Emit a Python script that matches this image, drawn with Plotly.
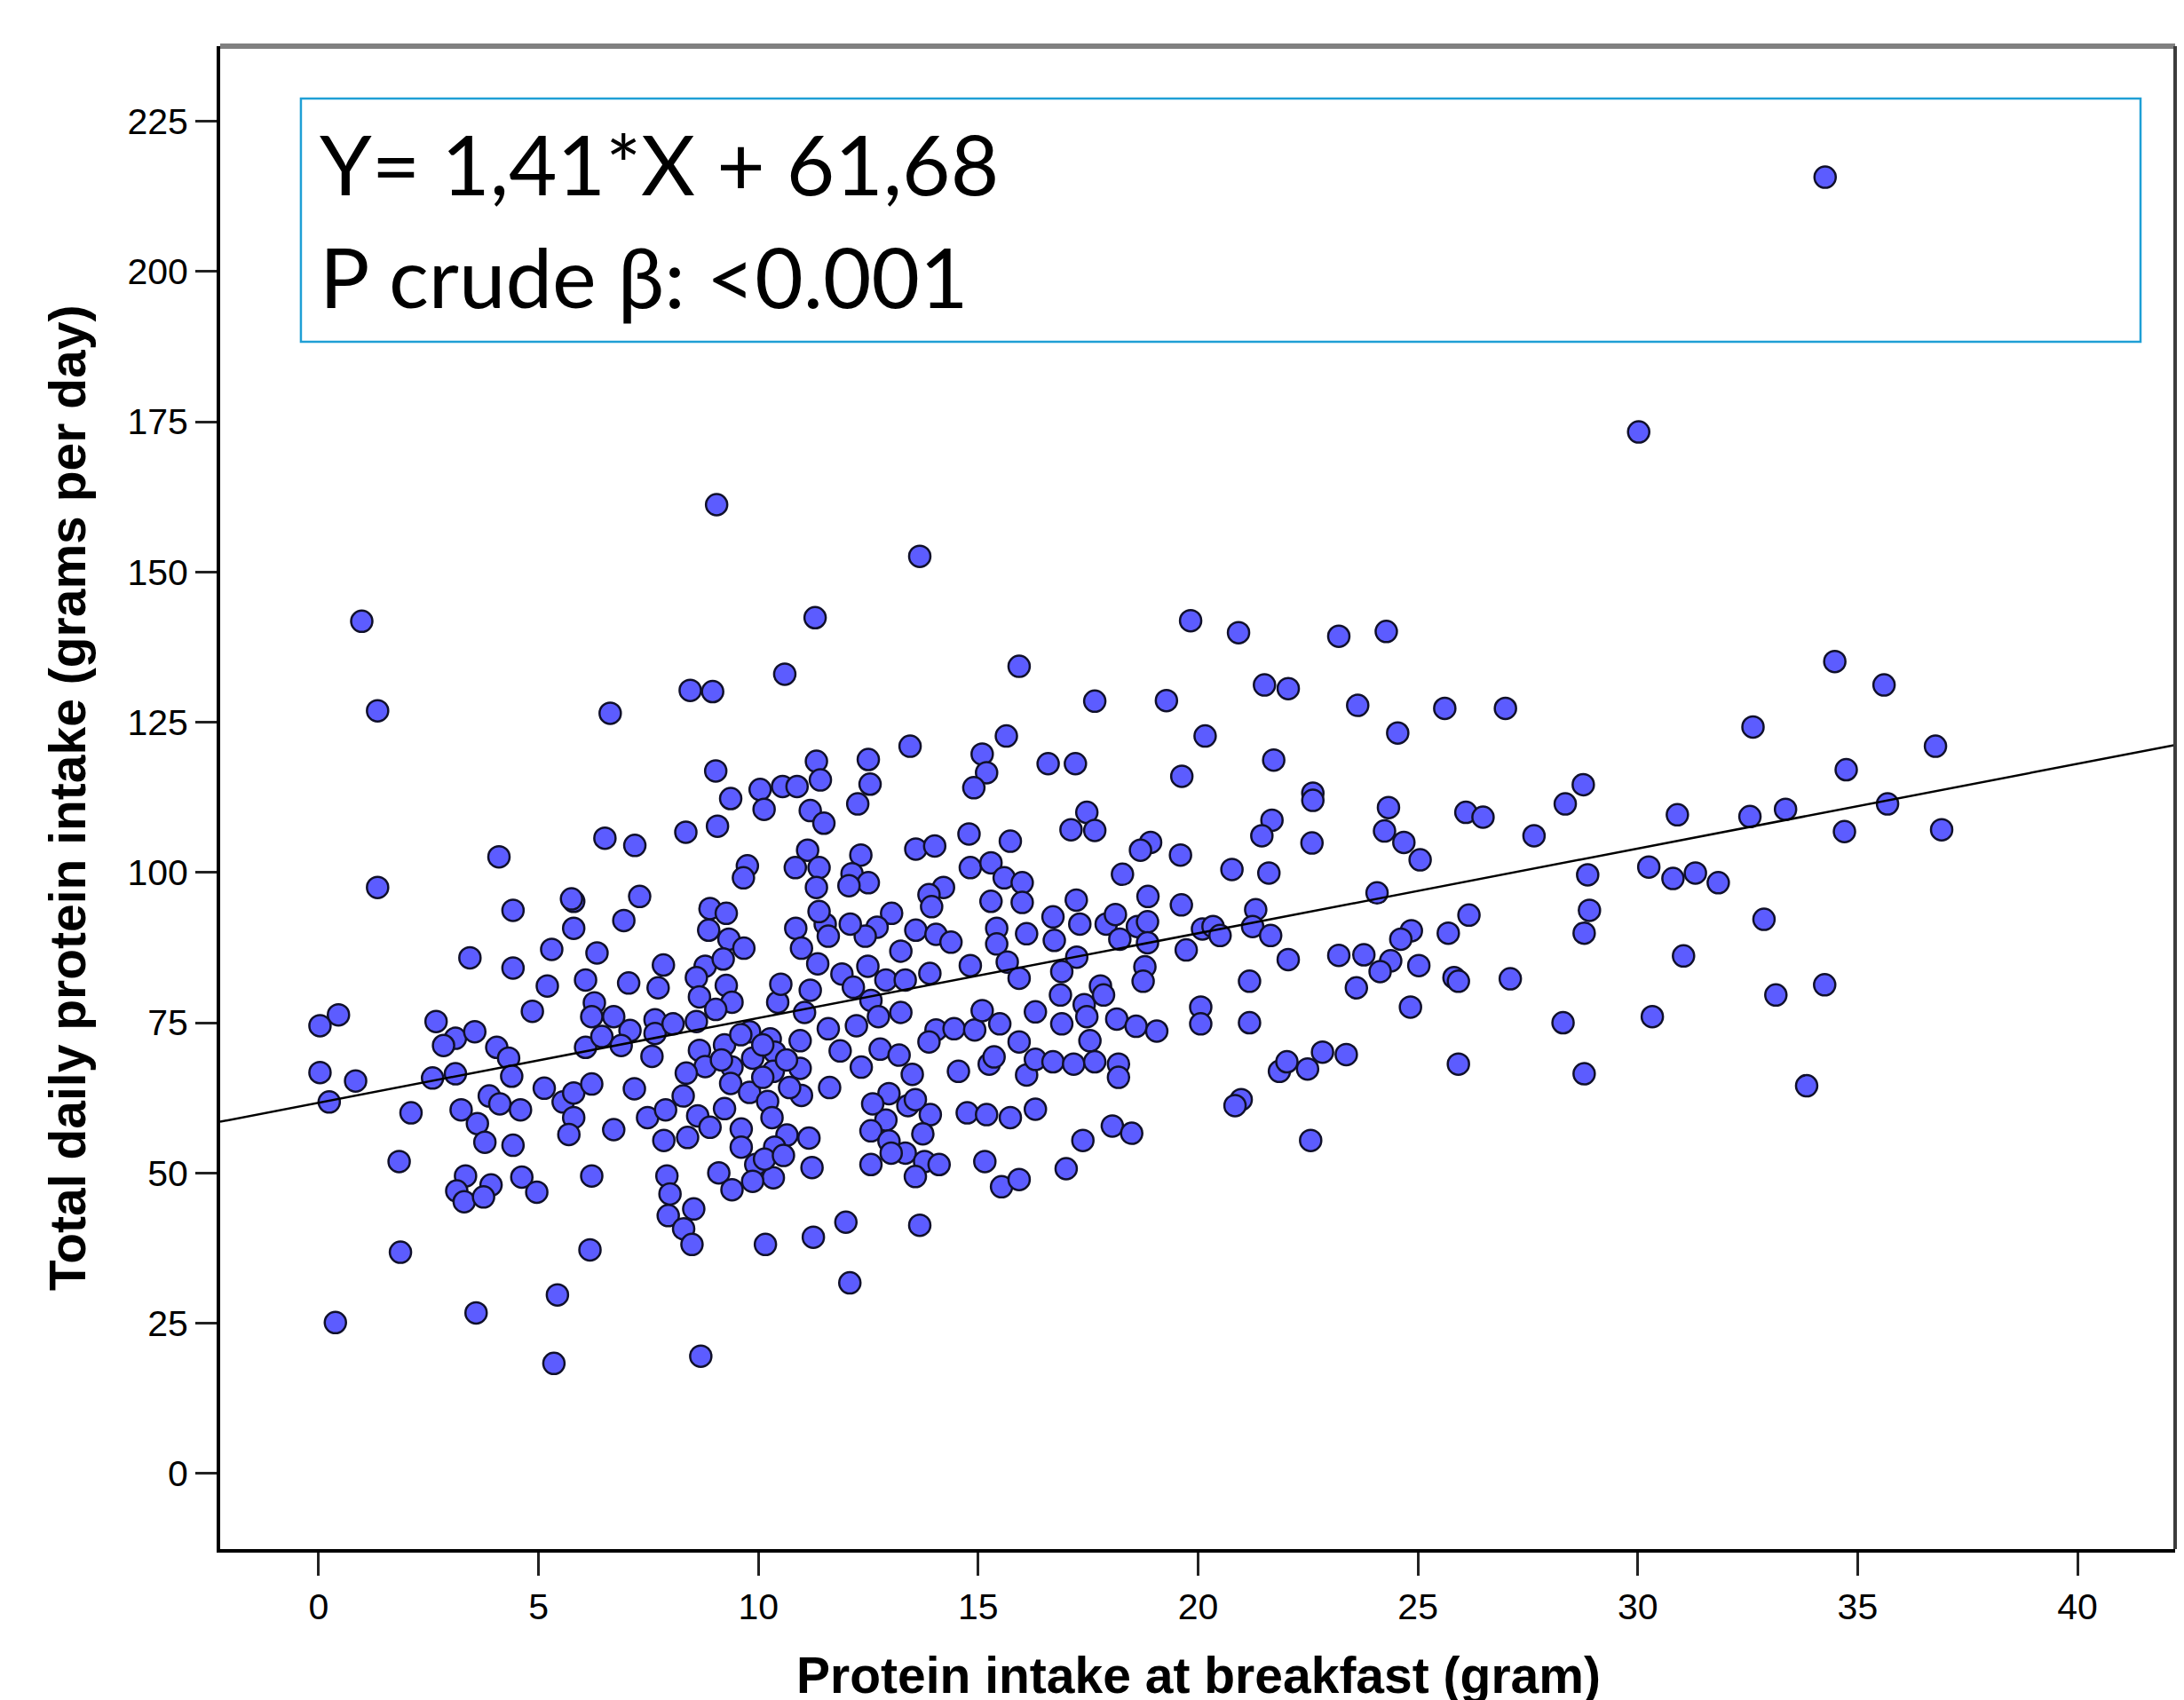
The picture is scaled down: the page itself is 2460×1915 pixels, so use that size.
import plotly.graph_objects as go

# ---- data (protein at breakfast g, total daily protein g) ----
breakfast_a = [9.05, 0.98, 1.34, 6.63, 8.45, 8.96, 9.03, 8.35, 9.07, 6.51, 7.19, 4.10, 1.34, 4.42,
               5.80, 5.75, 5.80, 7.30, 6.94, 8.90, 8.87, 5.30, 6.33, 3.44, 4.42, 7.84, 8.79]
total_a = [161.2, 141.8, 126.9, 126.5, 130.3, 130.1, 116.9, 106.7, 107.7, 105.7, 104.5, 102.6, 97.5, 93.7,
           95.2, 95.6, 90.7, 96.0, 92.0, 94.0, 90.4, 87.2, 86.6, 85.8, 84.1, 84.6, 84.4]

breakfast_b = [5.20, 6.07, 7.05, 7.72, 8.59, 0.45, 0.03, 2.67, 4.86, 6.27, 6.21, 6.71, 7.08, 7.65, 7.65,
               8.06, 8.59, 8.66, 3.11, 2.84, 3.55, 4.05, 4.32, 6.07, 6.44, 6.88, 7.58, 8.66, 8.79, 8.36,
               0.03, 0.84, 0.24, 2.59, 3.11, 4.39, 2.10, 3.24, 3.88, 4.12, 4.59, 3.61, 3.78, 4.42, 5.13,
               5.56, 5.80, 6.21, 5.80, 5.69, 6.71, 7.18, 7.48, 7.89, 7.85, 8.29, 8.62, 8.39, 8.90, 1.83,
               3.34, 3.14, 3.31, 3.92, 3.75, 4.62, 4.96, 6.21, 7.92, 7.99, 7.95, 8.53, 8.30, 8.49, 1.86,
               6.17, 5.43, 3.58, 0.38, 5.35, 8.69, 9.10]
total_b = [81.1, 82.1, 81.6, 80.8, 82.5, 76.3, 74.5, 75.2, 76.9, 78.3, 76.0, 76.0, 73.7, 75.5, 73.2,
           74.8, 75.2, 79.3, 72.4, 71.2, 73.5, 70.9, 69.1, 70.9, 72.7, 71.2, 69.4, 70.4, 67.7, 66.6,
           66.7, 65.3, 61.8, 65.8, 66.5, 66.1, 60.0, 60.5, 62.8, 61.5, 60.5, 58.2, 55.1, 54.6, 64.1,
           61.8, 63.3, 64.8, 59.2, 56.4, 57.2, 64.0, 59.2, 60.5, 55.4, 62.8, 59.5, 55.9, 57.6, 51.9,
           49.5, 47.0, 45.2, 48.0, 46.0, 49.3, 46.8, 49.5, 49.5, 46.5, 42.9, 44.0, 40.7, 38.1, 36.8,
           37.2, 29.7, 26.7, 25.1, 18.3, 19.5, 50.0]

breakfast_c = [13.67, 11.29, 10.60, 15.93, 13.45, 15.64, 15.09, 15.19, 14.90, 11.32, 12.50, 11.41, 12.54,
               12.26, 9.37, 10.04, 10.13, 10.55, 10.88, 11.18, 11.49, 14.79, 15.73, 13.58, 14.01, 14.82,
               15.29, 15.59, 16.00, 15.29, 16.00, 15.42, 15.42, 15.66, 16.10, 9.75, 9.66, 11.12, 10.84,
               11.38, 11.32, 12.33, 12.13, 12.50, 12.06, 14.21, 13.88, 13.94, 13.58, 14.04, 14.38, 13.03,
               12.70, 12.43, 13.24, 12.09, 11.52, 11.59, 11.38, 10.85, 10.98, 11.35, 9.27, 9.33, 9.67,
               9.20, 14.82, 13.90, 12.49, 11.90]
total_c = [152.6, 142.4, 133.0, 134.3, 121.0, 122.7, 119.7, 116.6, 114.1, 118.5, 118.8, 115.4, 114.7,
           111.4, 112.3, 113.8, 110.5, 114.3, 114.3, 110.3, 108.2, 106.4, 105.2, 103.9, 104.4, 100.8,
           101.6, 99.1, 98.3, 95.2, 95.0, 90.7, 88.1, 85.1, 89.8, 101.1, 99.1, 103.7, 100.8,
           100.8, 97.5, 102.9, 99.8, 98.3, 97.8, 97.5, 96.3, 94.3, 90.4, 89.7, 88.4, 93.2,
           90.9, 89.4, 86.9, 91.4, 91.4, 89.4, 93.5, 90.7, 87.4, 84.8, 93.2, 88.9, 87.4,
           85.6, 84.5, 83.2, 84.4, 83.1]

breakfast_d = [9.27, 9.40, 9.03, 10.44, 10.51, 11.18, 11.05, 12.16, 12.90, 13.34, 12.56, 13.24, 12.73,
               11.59, 12.23, 11.86, 12.34, 12.77, 13.20, 13.50, 9.80, 9.23, 10.27, 10.95, 9.87, 10.37,
               9.40, 10.34, 10.95, 9.37, 9.80, 10.21, 10.98, 11.62, 9.23, 10.31, 9.61, 10.65, 11.15,
               9.61, 10.37, 9.94, 10.34, 9.87, 9.40, 11.22, 12.97, 13.40, 12.90, 13.91, 12.56, 12.97,
               13.74, 12.56, 13.34, 13.78, 14.11, 13.57, 14.55, 15.25, 15.36, 14.04, 14.45, 14.92,
               15.09, 15.49, 15.93, 13.88, 14.75, 15.19, 15.73, 15.15, 15.53, 15.93, 16.10, 15.93,
               10.16, 11.25, 11.99, 13.67, 12.08, 9.60, 10.10, 9.16, 10.64, 10.10, 10.71, 10.14,
               10.57, 13.57, 12.60, 13.02]
total_d = [81.2, 78.4, 77.2, 78.4, 81.4, 80.4, 76.7, 80.9, 82.1, 82.1, 78.7, 76.7, 76.0,
           74.0, 74.5, 70.3, 67.6, 70.6, 69.6, 66.4, 73.5, 71.3, 72.3, 72.0, 69.1, 70.1,
           67.6, 66.9, 67.4, 64.9, 63.4, 61.9, 62.9, 64.2, 60.7, 59.2, 57.3, 56.3, 55.8,
           54.3, 54.3, 51.4, 49.2, 48.6, 47.2, 50.9, 63.2, 61.2, 58.8, 59.7, 57.0, 55.3,
           56.5, 51.4, 53.3, 51.9, 51.4, 49.4, 66.9, 68.1, 69.3, 73.8, 74.0, 73.8,
           77.0, 74.8, 71.8, 71.8, 60.0, 59.7, 59.2, 51.9, 47.7, 48.9, 66.3, 82.4,
           38.1, 39.3, 41.8, 41.3, 31.7, 73.0, 71.3, 68.8, 68.8, 65.9, 64.2, 52.3,
           52.9, 62.2, 61.5, 53.3]

breakfast_e = [19.83, 20.92, 23.20, 17.65, 19.28, 21.51, 22.05, 20.16, 16.59, 17.21, 19.63, 21.72, 22.61,
               22.61, 17.47, 17.11, 17.65, 21.68, 21.45, 22.59, 18.92, 18.69, 19.60, 18.28, 20.77, 21.61,
               18.86, 19.62, 17.23, 16.70, 17.31, 17.91, 18.12, 18.22, 18.62, 18.85, 18.85, 20.10, 20.34,
               20.50, 19.73, 21.31, 21.24, 21.65, 22.05, 23.20, 16.73, 17.24, 16.90, 17.78, 16.87, 17.41,
               17.85, 16.30, 16.90, 17.47, 18.15, 18.59, 19.06, 18.79, 18.75, 20.06, 20.06, 21.17, 21.17,
               16.30, 16.70, 17.17, 17.54, 17.65, 18.19, 18.19, 21.85, 22.02, 22.49, 22.83, 16.30,
               20.98, 20.84, 18.05, 18.49, 17.38, 17.00, 22.56]
total_e = [141.9, 139.9, 139.3, 128.5, 128.6, 131.2, 130.6, 122.7, 118.1, 118.1, 116.0, 118.7, 113.2,
           112.0, 110.0, 107.1, 107.0, 108.7, 106.1, 104.9, 105.0, 103.7, 102.9, 99.7, 100.5, 99.9,
           96.0, 94.6, 95.4, 92.6, 91.4, 91.4, 93.0, 88.9, 91.0, 91.8, 88.3, 90.6, 91.0,
           89.5, 87.1, 93.8, 91.0, 89.5, 85.5, 86.2, 88.7, 85.9, 83.5, 81.1, 79.6, 78.0,
           79.6, 76.8, 74.8, 76.0, 75.6, 74.4, 73.6, 84.3, 81.9, 77.6, 74.8, 81.9, 75.0,
           68.9, 68.5, 68.1, 72.0, 68.5, 68.1, 65.9, 66.9, 68.5, 67.3, 70.1, 60.6,
           62.2, 61.2, 57.8, 56.6, 55.4, 50.7, 55.4]

breakfast_f = [24.28, 23.63, 24.54, 25.61, 26.99, 24.33, 24.24, 24.68, 25.05, 26.09, 26.48, 27.64, 28.35,
               28.76, 30.90, 24.07, 28.86, 30.25, 30.80, 28.90, 28.78, 26.16, 25.69, 24.85, 24.61, 23.77,
               24.38, 24.14, 25.02, 25.82, 25.92, 27.10, 23.60, 31.04, 24.83, 28.30, 30.33, 23.37, 25.92,
               28.78]
total_f = [140.1, 127.8, 123.2, 127.3, 127.3, 110.8, 106.9, 105.0, 102.1, 110.0, 109.2, 106.1, 111.4,
           114.6, 109.6, 96.6, 99.6, 100.9, 99.0, 93.7, 89.9, 92.9, 89.9, 90.3, 88.9, 86.3,
           85.3, 83.5, 84.5, 82.5, 81.9, 82.3, 80.8, 86.1, 77.6, 75.0, 76.0, 69.7, 68.1,
           66.5]

breakfast_g = [34.48, 35.60, 32.62, 36.77, 34.74, 32.55, 33.36, 34.70, 35.68, 36.91, 31.31, 31.83, 32.87,
               33.14, 34.25, 33.84, 34.26, 30.02]
total_g = [135.1, 131.2, 124.2, 121.0, 117.1, 109.3, 110.5, 106.8, 111.4, 107.1, 99.9, 98.3, 92.2,
           79.6, 81.3, 64.5, 215.7, 173.3]

# regression shown in the chart
slope = 1.41
intercept = 61.68

x_ticks = [0, 5, 10, 15, 20, 25, 30, 35, 40]
y_ticks = [0, 25, 50, 75, 100, 125, 150, 175, 200, 225]
x_range = [-2.24, 42.22]
y_range = [-12.6, 237.5]

equation_text = "Y= 1,41*X + 61,68"
pvalue_text = "P crude \u03b2: <0.001"
x_title = "Protein intake at breakfast (gram)"
y_title = "Total daily protein intake (grams per day)"

xs = breakfast_a + breakfast_b + breakfast_c + breakfast_d + breakfast_e + breakfast_f + breakfast_g
ys = total_a + total_b + total_c + total_d + total_e + total_f + total_g

fig = go.Figure()
fig.add_trace(go.Scatter(
    x=xs, y=ys, mode="markers",
    marker=dict(size=24, color="#5c5cff", line=dict(color="#10102a", width=2.5)),
    showlegend=False, hoverinfo="skip"))
fig.add_trace(go.Scatter(
    x=x_range, y=[intercept + slope * v for v in x_range], mode="lines",
    line=dict(color="black", width=2.5), showlegend=False, hoverinfo="skip"))

tickfont = dict(family="Liberation Sans, Arial", size=41, color="black")
# the page body has an 8px margin, so the figure is 8px smaller and margins shifted accordingly
fig.update_layout(
    width=2452, height=1907,
    margin=dict(l=240, r=10, t=44, b=170, pad=0),
    paper_bgcolor="white", plot_bgcolor="white",
    xaxis=dict(range=x_range, tickvals=x_ticks, ticks="outside", ticklen=26, tickwidth=3,
               tickcolor="#222", showline=True, linecolor="black", linewidth=4,
               showgrid=False, zeroline=False, tickfont=tickfont),
    yaxis=dict(range=y_range, tickvals=y_ticks, ticks="outside", ticklen=24, tickwidth=3,
               tickcolor="#222", showline=True, linecolor="black", linewidth=4,
               showgrid=False, zeroline=False, tickfont=tickfont),
    shapes=[
        dict(type="line", xref="paper", yref="paper", x0=0, x1=1, y0=1, y1=1,
             line=dict(color="#808080", width=6)),
        dict(type="line", xref="paper", yref="paper", x0=1, x1=1, y0=0, y1=1,
             line=dict(color="#3c3c3c", width=4)),
        dict(type="rect", xref="paper", yref="paper", x0=0.0413, x1=0.9823, y0=0.8033, y1=0.9651,
             line=dict(color="#1f9fd5", width=2.5), layer="below"),
    ],
    annotations=[
        dict(text=equation_text, xref="paper", yref="paper", x=0.0500, y=0.9226,
             xanchor="left", yanchor="middle", showarrow=False,
             font=dict(family="Lato", size=94, color="black")),
        dict(text=pvalue_text, xref="paper", yref="paper", x=0.0500, y=0.8476,
             xanchor="left", yanchor="middle", showarrow=False,
             font=dict(family="Lato", size=94, color="black")),
        dict(text="<b>" + x_title + "</b>", xref="paper", yref="paper", x=0.5005, y=-0.0839,
             xanchor="center", yanchor="middle", showarrow=False,
             font=dict(family="Liberation Sans, Arial", size=57, color="black")),
        dict(text="<b>" + y_title + "</b>", xref="paper", yref="paper", x=-0.0782, y=0.5,
             xanchor="center", yanchor="middle", showarrow=False, textangle=-90,
             font=dict(family="Liberation Sans, Arial", size=57, color="black")),
    ],
)

fig.write_html("out.html")
